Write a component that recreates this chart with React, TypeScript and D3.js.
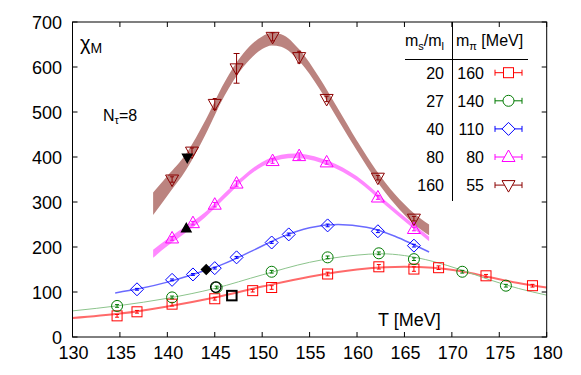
import * as d3 from 'd3'

// measured points, T [MeV] and chi_M
const T20 = [134.7, 136.8, 140.5, 145.0, 149.0, 151.0, 156.9, 162.3, 166.0, 168.6, 173.6, 178.5]
const V20 = [47, 56, 73, 85, 103, 110, 140, 156, 151, 154, 136, 114]
const E20 = [3, 3, 4, 3, 3, 4, 4, 5, 5, 4, 3, 3]

const T27 = [134.7, 140.5, 145.2, 151.0, 156.9, 162.3, 166.0, 171.1, 175.7]
const V27 = [69, 88, 110, 145, 177, 186, 173, 145, 114]
const E27 = [3, 3, 3, 3, 3, 3, 3, 3, 3]

const T40 = [136.8, 140.5, 142.7, 145.0, 147.3, 151.0, 152.8, 156.9, 162.2, 166.0]
const V40 = [106, 127, 139, 153, 177, 210, 228, 248, 235, 203]
const E40 = [2, 2, 2, 2, 2, 2, 3, 3, 3, 3]

const T80 = [140.5, 142.7, 145.0, 147.3, 151.1, 153.9, 156.8, 162.2, 166.0]
const V80 = [219, 253, 294, 341, 391, 402, 388, 310, 240]
const E80 = [4, 4, 5, 6, 5, 7, 4, 4, 4]

const T160 = [140.5, 142.6, 145.0, 147.3, 151.1, 153.9, 156.8, 162.2, 166.0]
const V160 = [350, 412, 518, 597, 667, 622, 529, 354, 263]
const E160 = [6, 8, 12, 33, 9, 13, 6, 5, 5]

// black points (other lattice)
const blackPts = [
  { shape: 'square', t: 146.8, v: 92 },
  { shape: 'circle', t: 145.1, v: 111 },
  { shape: 'diamond', t: 144.1, v: 150 },
  { shape: 'up', t: 142.0, v: 241 },
  { shape: 'down', t: 142.1, v: 399 },
]

// fit curves
const fit20T = [130, 135, 140, 145, 150, 155, 160, 163, 165, 168, 171, 174, 177, 180]
const fit20V = [42, 52, 68, 88, 112, 134, 150, 155, 156, 154, 146, 133, 120, 110]

const fit27T = [130, 135, 140, 145, 150, 155, 160, 162.5, 165, 168, 171, 174, 177, 180]
const fit27V = [58, 70, 86, 108, 138, 166, 182, 185, 181, 168, 149, 127, 108, 93]

const fit40T = [134.5, 137, 140, 143, 146, 149, 152, 155, 158, 161, 164, 166, 167.6]
const fit40V = [98, 107, 122, 141, 163, 192, 222, 243, 250, 244, 224, 205, 189]

const fit80T = [138.5, 140, 142, 144, 146, 148, 150, 152, 153.5, 155, 157, 160, 163, 166, 167.6]
const fit80V = [185, 210, 240, 272, 313, 353, 384, 400, 403, 399, 386, 352, 298, 245, 218]
const fit80W = [9, 8, 7, 6, 6, 5, 5, 5, 5, 5, 5, 5, 5, 5, 5]

const fit160T = [138.5, 140, 142, 144, 146, 148, 150, 151, 152, 154, 156, 158, 160, 162, 164, 166, 167.6]
const fit160V = [296, 336, 390, 465, 550, 615, 654, 662, 659, 624, 565, 495, 425, 360, 306, 263, 238]
const fit160W = [25, 22, 18, 16, 15, 15, 14, 14, 14, 13, 12, 12, 11, 11, 11, 12, 12]

const xTicks = [130, 135, 140, 145, 150, 155, 160, 165, 170, 175, 180]
const yTicks = [0, 100, 200, 300, 400, 500, 600, 700]

const legendRatio = ['20', '27', '40', '80', '160']
const legendMpi = ['160', '140', '110', '80', '55']

const W = 581
const H = 375
const L = 72.5
const R = 546.7
const TOP = 22
const BOT = 337
const FONT = '"Liberation Sans", Arial, Helvetica, sans-serif'

const x = d3.scaleLinear().domain([130, 180]).range([L, R])
const y = d3.scaleLinear().domain([0, 700]).range([BOT, TOP])

function Marker({ shape, cx, cy, color, fill = 'none', sw = 1, k = 1 }) {
  const s = 5 * k
  const d = 6.5 * k
  if (shape === 'square')
    return <rect x={cx - s} y={cy - s} width={2 * s} height={2 * s} fill={fill} stroke={color} strokeWidth={sw} />
  if (shape === 'circle') return <circle cx={cx} cy={cy} r={5.5 * k} fill={fill} stroke={color} strokeWidth={sw} />
  if (shape === 'diamond')
    return (
      <polygon
        points={`${cx},${cy - d} ${cx + d},${cy} ${cx},${cy + d} ${cx - d},${cy}`}
        fill={fill}
        stroke={color}
        strokeWidth={sw}
      />
    )
  if (shape === 'up')
    return (
      <polygon
        points={`${cx},${cy - 7 * k} ${cx + d},${cy + 4.5 * k} ${cx - d},${cy + 4.5 * k}`}
        fill={fill}
        stroke={color}
        strokeWidth={sw}
      />
    )
  return (
    <polygon
      points={`${cx},${cy + 7 * k} ${cx + d},${cy - 4.5 * k} ${cx - d},${cy - 4.5 * k}`}
      fill={fill}
      stroke={color}
      strokeWidth={sw}
    />
  )
}

function Series({ ts, vs, es, shape, color }) {
  return (
    <g>
      {ts.map((t, i) => {
        const cx = x(t)
        const y0 = y(vs[i] - es[i])
        const y1 = y(vs[i] + es[i])
        const cap = es[i] > 15 ? 3 : 2
        return (
          <g key={i}>
            <line x1={cx} x2={cx} y1={y0} y2={y1} stroke={color} strokeWidth={1} />
            <line x1={cx - cap} x2={cx + cap} y1={y0} y2={y0} stroke={color} strokeWidth={1} />
            <line x1={cx - cap} x2={cx + cap} y1={y1} y2={y1} stroke={color} strokeWidth={1} />
            <Marker shape={shape} cx={cx} cy={y(vs[i])} color={color} />
          </g>
        )
      })}
    </g>
  )
}

const series = [
  { ts: T20, vs: V20, es: E20, shape: 'square', color: '#ff0000' },
  { ts: T27, vs: V27, es: E27, shape: 'circle', color: '#007a00' },
  { ts: T40, vs: V40, es: E40, shape: 'diamond', color: '#0000ff' },
  { ts: T80, vs: V80, es: E80, shape: 'up', color: '#ff00ff' },
  { ts: T160, vs: V160, es: E160, shape: 'down', color: '#8b0000' },
]

export default function App() {
  const line = (ts, vs) =>
    d3
      .line()
      .x((_, i) => x(ts[i]))
      .y((_, i) => y(vs[i]))
      .curve(d3.curveMonotoneX)(ts)
  const band = (ts, vs, ws) =>
    d3
      .area()
      .x((_, i) => x(ts[i]))
      .y0((_, i) => y(vs[i] - ws[i]))
      .y1((_, i) => y(vs[i] + ws[i]))
      .curve(d3.curveMonotoneX)(ts)

  return (
    <svg
      width={W}
      height={H}
      style={{ position: 'absolute', left: 0, top: 0, background: '#fff' }}
      fontFamily={FONT}
    >
      <defs>
        <clipPath id="plot">
          <rect x={L} y={TOP} width={R - L} height={BOT - TOP} />
        </clipPath>
      </defs>

      {/* ticks, mirrored on all sides */}
      {xTicks.map((t) => (
        <g key={'x' + t}>
          <line x1={x(t)} x2={x(t)} y1={BOT} y2={BOT - 5} stroke="#000" />
          <line x1={x(t)} x2={x(t)} y1={TOP} y2={TOP + 5} stroke="#000" />
          <text x={x(t) + 1} y={359} fontSize={18} textAnchor="middle">
            {t}
          </text>
        </g>
      ))}
      {yTicks.map((v) => (
        <g key={'y' + v}>
          <line x1={L} x2={L + 5} y1={y(v)} y2={y(v)} stroke="#000" />
          <line x1={R} x2={R - 5} y1={y(v)} y2={y(v)} stroke="#000" />
          <text x={62} y={y(v) + 6.5} fontSize={18} textAnchor="end">
            {v}
          </text>
        </g>
      ))}

      <g clipPath="url(#plot)">
        <path d={line(fit20T, fit20V)} fill="none" stroke="#ff6a6a" strokeWidth={2} />
        <path d={line(fit27T, fit27V)} fill="none" stroke="#8cc48c" strokeWidth={1} />
        <path d={line(fit40T, fit40V)} fill="none" stroke="#6a6aff" strokeWidth={1.5} />
        <path d={band(fit80T, fit80V, fit80W)} fill="#ff88ff" stroke="none" />
        <path d={band(fit160T, fit160V, fit160W)} fill="#bb837f" stroke="none" />

        {series.map((s, i) => (
          <Series key={i} {...s} />
        ))}

        {blackPts.map((p, i) => (
          <Marker
            key={i}
            shape={p.shape}
            cx={x(p.t)}
            cy={y(p.v)}
            color="#000"
            k={p.shape === 'up' || p.shape === 'down' || p.shape === 'diamond' ? 0.75 : 0.95}
            fill={p.shape === 'up' || p.shape === 'down' || p.shape === 'diamond' ? '#000' : 'none'}
            sw={p.shape === 'square' ? 2 : 1.2}
          />
        ))}
      </g>

      <rect x={L} y={TOP} width={R - L} height={BOT - TOP} fill="none" stroke="#000" strokeWidth={1} />

      {/* labels */}
      <text x={80} y={50} fontSize={20}>
        χ<tspan fontSize={14} dy={3}>M</tspan>
      </text>
      <text x={103} y={121} fontSize={16}>
        N<tspan fontSize={11} dy={3}>τ</tspan>
        <tspan dy={-3}>=8</tspan>
      </text>
      <text x={378} y={326} fontSize={18}>
        T [MeV]
      </text>

      {/* legend table */}
      <line x1={405} x2={528} y1={59.5} y2={59.5} stroke="#000" />
      <line x1={452.5} x2={452.5} y1={TOP} y2={201} stroke="#000" />
      <text x={444} y={46} fontSize={16} textAnchor="end">
        m<tspan fontSize={11} dy={4}>s</tspan>
        <tspan dy={-4}>/m</tspan>
        <tspan fontSize={11} dy={4}>l</tspan>
      </text>
      <text x={456} y={46} fontSize={16}>
        m<tspan fontSize={11} dy={4}>π</tspan>
        <tspan dy={-4}> [MeV]</tspan>
      </text>
      {series.map((s, i) => {
        const cy = 72.7 + i * 28.1
        return (
          <g key={'leg' + i}>
            <text x={444} y={cy + 6} fontSize={16} textAnchor="end">
              {legendRatio[i]}
            </text>
            <text x={484} y={cy + 6} fontSize={16} textAnchor="end">
              {legendMpi[i]}
            </text>
            <line x1={495} x2={522} y1={cy} y2={cy} stroke={s.color} />
            <line x1={495} x2={495} y1={cy - 3} y2={cy + 3} stroke={s.color} />
            <line x1={522} x2={522} y1={cy - 3} y2={cy + 3} stroke={s.color} />
            <Marker shape={s.shape} cx={508.5} cy={cy} color={s.color} fill="#fff" />
          </g>
        )
      })}
    </svg>
  )
}
